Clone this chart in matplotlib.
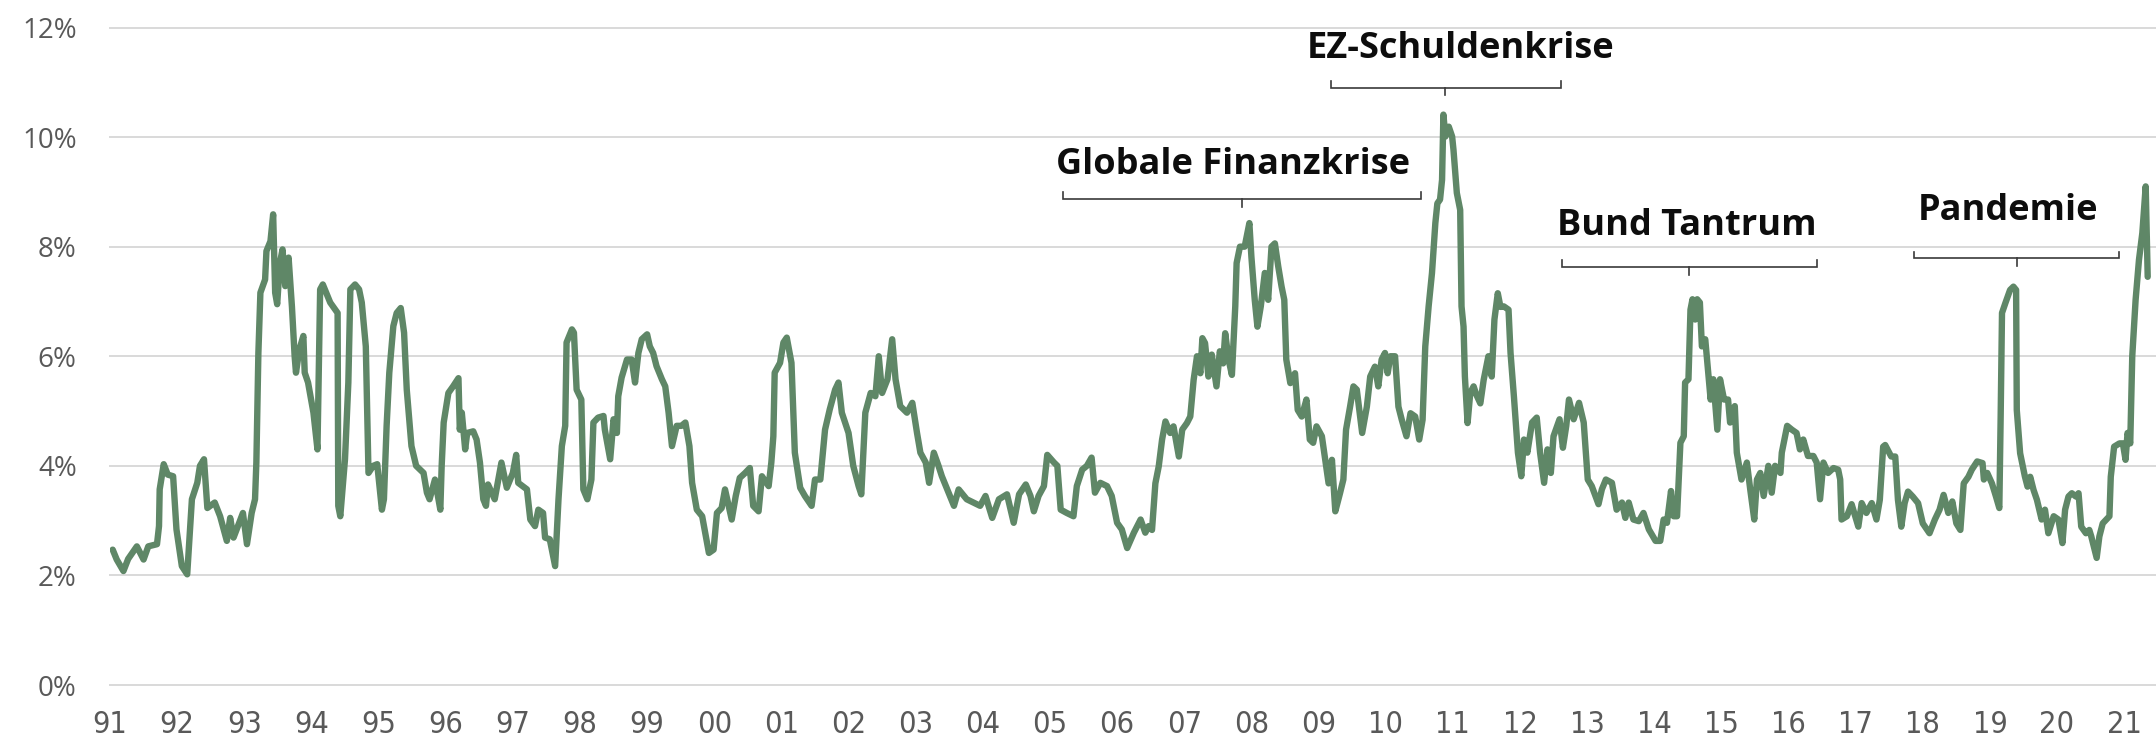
import matplotlib
matplotlib.use("Agg")
import matplotlib.pyplot as plt
from matplotlib import font_manager

# ---------------- data ----------------
years = [
    1991.04, 1991.10, 1991.20, 1991.27, 1991.40, 1991.50, 1991.57, 1991.70, 1991.73, 1991.74,
    1991.80, 1991.86, 1991.94, 1991.99, 1992.07, 1992.15, 1992.22, 1992.30, 1992.34, 1992.40,
    1992.45, 1992.56, 1992.64, 1992.74, 1992.79, 1992.84, 1992.98, 1993.04, 1993.11, 1993.16,
    1993.18, 1993.21, 1993.24, 1993.31, 1993.33, 1993.39, 1993.43, 1993.46, 1993.49, 1993.53,
    1993.57, 1993.61, 1993.66, 1993.71, 1993.75, 1993.77, 1993.82, 1993.88, 1993.90, 1993.95,
    1994.03, 1994.09, 1994.13, 1994.17, 1994.28, 1994.39, 1994.40, 1994.43, 1994.50, 1994.55,
    1994.58, 1994.65, 1994.71, 1994.75, 1994.81, 1994.85, 1994.92, 1994.98, 1995.05, 1995.08,
    1995.12, 1995.16, 1995.22, 1995.27, 1995.33, 1995.38, 1995.42, 1995.49, 1995.56, 1995.67,
    1995.72, 1995.76, 1995.84, 1995.92, 1995.94, 1995.97, 1996.04, 1996.11, 1996.19,
    1996.21, 1996.24, 1996.29, 1996.32, 1996.41, 1996.46, 1996.51, 1996.56, 1996.60, 1996.63,
    1996.73, 1996.83, 1996.91, 1997.00, 1997.05, 1997.08, 1997.21, 1997.26, 1997.33, 1997.38,
    1997.45, 1997.48, 1997.55, 1997.63, 1997.68, 1997.73, 1997.78, 1997.80, 1997.88, 1997.91,
    1997.95, 1998.02, 1998.05, 1998.11, 1998.17, 1998.20, 1998.27, 1998.35, 1998.37, 1998.45,
    1998.50, 1998.55, 1998.57, 1998.62, 1998.70, 1998.77, 1998.82, 1998.87, 1998.92, 1999.00,
    1999.04, 1999.09, 1999.14, 1999.22, 1999.27, 1999.32, 1999.37, 1999.44, 1999.51, 1999.57,
    1999.63, 1999.67, 1999.74, 1999.82, 1999.92, 1999.99, 2000.04, 2000.11, 2000.16, 2000.26,
    2000.32, 2000.38, 2000.46, 2000.53, 2000.58, 2000.66, 2000.71, 2000.81, 2000.85, 2000.88,
    2000.90, 2000.98, 2001.03, 2001.08, 2001.15, 2001.20,
    2001.28, 2001.35, 2001.45, 2001.50, 2001.58, 2001.65, 2001.72, 2001.80, 2001.85, 2001.90,
    2002.00, 2002.07, 2002.15, 2002.19, 2002.25, 2002.33, 2002.40, 2002.45, 2002.50, 2002.58,
    2002.65, 2002.70, 2002.77, 2002.87, 2002.95, 2003.02, 2003.07, 2003.15, 2003.20, 2003.27,
    2003.34, 2003.39, 2003.47, 2003.57, 2003.64, 2003.76, 2003.86, 2003.96, 2004.04, 2004.14,
    2004.24, 2004.36, 2004.46, 2004.54, 2004.64, 2004.71, 2004.76, 2004.83, 2004.91, 2004.96,
    2005.06, 2005.11, 2005.16, 2005.25, 2005.35, 2005.40, 2005.48, 2005.55, 2005.62, 2005.67,
    2005.75, 2005.85, 2005.92, 2006.00, 2006.07, 2006.15, 2006.25, 2006.35, 2006.42, 2006.47,
    2006.52, 2006.57, 2006.62, 2006.67, 2006.72, 2006.79, 2006.84, 2006.92, 2006.97, 2007.04,
    2007.09, 2007.14, 2007.19, 2007.24, 2007.27, 2007.31, 2007.36, 2007.41, 2007.48, 2007.53,
    2007.58, 2007.61, 2007.66, 2007.71, 2007.76, 2007.78, 2007.83, 2007.90, 2007.97, 2008.00,
    2008.05, 2008.09, 2008.14, 2008.20, 2008.25, 2008.30, 2008.35, 2008.40, 2008.45, 2008.49,
    2008.52, 2008.58, 2008.65, 2008.69, 2008.75, 2008.82, 2008.87, 2008.92, 2008.97, 2009.05,
    2009.10, 2009.15, 2009.20, 2009.25, 2009.32, 2009.37, 2009.41, 2009.47, 2009.52, 2009.57,
    2009.65, 2009.72, 2009.77, 2009.84, 2009.89, 2009.94, 2009.99, 2010.03, 2010.07, 2010.14,
    2010.19, 2010.24, 2010.31, 2010.37, 2010.44, 2010.50, 2010.55, 2010.59, 2010.64, 2010.69,
    2010.74, 2010.77, 2010.81, 2010.84, 2010.86, 2010.89, 2010.94, 2010.99, 2011.01, 2011.06,
    2011.11, 2011.13, 2011.16, 2011.18, 2011.22, 2011.26, 2011.31, 2011.35, 2011.41, 2011.46,
    2011.53, 2011.58, 2011.62, 2011.67, 2011.71, 2011.76, 2011.83, 2011.86, 2011.91, 2011.97,
    2012.02, 2012.06, 2012.11, 2012.18, 2012.25, 2012.30, 2012.36, 2012.41, 2012.46, 2012.50,
    2012.59, 2012.64, 2012.69, 2012.73, 2012.80, 2012.88, 2012.95, 2013.01, 2013.07, 2013.17,
    2013.22, 2013.28, 2013.37, 2013.44, 2013.52, 2013.57, 2013.62, 2013.69, 2013.77, 2013.84,
    2013.92, 2014.02, 2014.09, 2014.14, 2014.19, 2014.25, 2014.29, 2014.34, 2014.39, 2014.44,
    2014.46, 2014.51, 2014.54, 2014.57, 2014.61, 2014.64, 2014.68, 2014.71, 2014.76, 2014.80,
    2014.84, 2014.88, 2014.94, 2014.98, 2015.04, 2015.10, 2015.13, 2015.20, 2015.23, 2015.30,
    2015.38, 2015.43, 2015.49, 2015.53, 2015.58, 2015.63, 2015.70, 2015.75, 2015.80, 2015.88,
    2015.90, 2015.98, 2016.05, 2016.12, 2016.17, 2016.22, 2016.29, 2016.37, 2016.42, 2016.47,
    2016.52, 2016.59, 2016.67, 2016.74, 2016.77, 2016.79, 2016.87, 2016.94,
    2017.04, 2017.09, 2017.16, 2017.24, 2017.31, 2017.36, 2017.41, 2017.44, 2017.53, 2017.59,
    2017.63, 2017.68, 2017.73, 2017.78, 2017.85, 2017.93, 2018.00, 2018.10, 2018.18, 2018.25,
    2018.31, 2018.38, 2018.44, 2018.50, 2018.56, 2018.61, 2018.68, 2018.73, 2018.81, 2018.89,
    2018.91, 2018.96, 2019.03, 2019.09, 2019.14, 2019.16, 2019.18, 2019.23, 2019.30, 2019.35,
    2019.39, 2019.40, 2019.45, 2019.52, 2019.56, 2019.60, 2019.65, 2019.70, 2019.77, 2019.82,
    2019.87, 2019.95, 2020.02, 2020.08, 2020.12, 2020.17, 2020.22, 2020.28, 2020.32, 2020.36,
    2020.43, 2020.48, 2020.51, 2020.56, 2020.59, 2020.63, 2020.68, 2020.78, 2020.80, 2020.85,
    2020.93, 2020.98, 2021.02, 2021.05, 2021.09, 2021.12, 2021.17, 2021.22, 2021.27, 2021.32,
    2021.35,
]

vol = [
    2.47, 2.29, 2.08, 2.30, 2.53, 2.29, 2.53, 2.57, 2.90, 3.57,
    4.03, 3.84, 3.81, 2.84, 2.17, 2.02, 3.39, 3.69, 4.00, 4.12,
    3.23, 3.33, 3.08, 2.63, 3.05, 2.69, 3.14, 2.57, 3.14, 3.39,
    4.06, 6.06, 7.16, 7.40, 7.92, 8.10, 8.59, 7.16, 6.95, 7.70,
    7.95, 7.28, 7.80, 6.90, 6.00, 5.70, 6.12, 6.37, 5.70, 5.52,
    4.97, 4.30, 7.22, 7.31, 6.98, 6.79, 3.27, 3.08, 4.12, 5.52,
    7.22, 7.31, 7.22, 6.98, 6.18, 3.87, 4.00, 4.03, 3.20, 3.39,
    4.73, 5.70, 6.55, 6.79, 6.88, 6.43, 5.39, 4.36, 4.00, 3.87,
    3.51, 3.39, 3.75, 3.20, 4.00, 4.79, 5.33, 5.45, 5.60,
    4.66, 4.97, 4.30, 4.60, 4.63, 4.48, 4.06, 3.39, 3.27, 3.66,
    3.39, 4.06, 3.60, 3.87, 4.20, 3.69, 3.57, 3.02, 2.90, 3.20,
    3.14, 2.69, 2.66, 2.17, 3.39, 4.36, 4.73, 6.25, 6.49, 6.43,
    5.39, 5.21, 3.57, 3.39, 3.75, 4.79, 4.88, 4.91, 4.66, 4.12,
    4.85, 4.60, 5.27, 5.61, 5.94, 5.94, 5.52, 6.06, 6.31, 6.40,
    6.18, 6.06, 5.82, 5.58, 5.45, 4.97, 4.36, 4.73, 4.73, 4.79,
    4.36, 3.69, 3.20, 3.08, 2.41, 2.47, 3.14, 3.23, 3.57, 3.02,
    3.45, 3.78, 3.87, 3.96, 3.27, 3.17, 3.81, 3.63, 4.06, 4.54,
    5.70, 5.88, 6.25, 6.34, 5.88, 4.24,
    3.60, 3.45, 3.27, 3.75, 3.75, 4.66, 5.03, 5.39, 5.52, 4.97,
    4.60, 4.00, 3.63, 3.48, 4.97, 5.33, 5.27, 6.00, 5.33, 5.58,
    6.31, 5.58, 5.09, 4.97, 5.15, 4.60, 4.24, 4.06, 3.69, 4.24,
    4.00, 3.81, 3.57, 3.27, 3.57, 3.39, 3.33, 3.27, 3.45, 3.05,
    3.39, 3.48, 2.96, 3.48, 3.66, 3.45, 3.17, 3.45, 3.63, 4.20,
    4.06, 4.00, 3.20, 3.14, 3.08, 3.63, 3.93, 4.00, 4.15, 3.51,
    3.69, 3.63, 3.45, 2.96, 2.84, 2.50, 2.78, 3.02, 2.78, 2.90,
    2.83, 3.68, 3.99, 4.48, 4.81, 4.60, 4.72, 4.17, 4.66, 4.78,
    4.90, 5.57, 6.00, 5.69, 6.33, 6.24, 5.63, 6.03, 5.45, 6.09,
    5.87, 6.42, 5.94, 5.66, 6.91, 7.70, 8.00, 8.00, 8.43, 7.82,
    7.03, 6.54, 6.91, 7.52, 7.03, 8.00, 8.06, 7.64, 7.27, 7.03,
    5.94, 5.51, 5.69, 5.02, 4.90, 5.21, 4.48, 4.42, 4.72, 4.54,
    4.11, 3.68, 4.11, 3.17, 3.50, 3.75, 4.66, 5.08, 5.45, 5.39,
    4.60, 5.08, 5.63, 5.81, 5.45, 5.94, 6.06, 5.69, 6.00, 6.00,
    5.08, 4.84, 4.54, 4.96, 4.90, 4.48, 4.84, 6.18, 6.91, 7.52,
    8.43, 8.79, 8.86, 9.22, 10.41, 10.01, 10.19, 10.01, 9.77, 8.98,
    8.67, 6.91, 6.54, 5.63, 4.78, 5.33, 5.45, 5.30, 5.14, 5.57,
    6.00, 5.63, 6.67, 7.15, 6.90, 6.91, 6.85, 6.06, 5.27, 4.24,
    3.81, 4.48, 4.24, 4.79, 4.88, 4.24, 3.69, 4.30, 3.87, 4.54,
    4.85, 4.33, 4.73, 5.21, 4.85, 5.15, 4.79, 3.75, 3.63, 3.30,
    3.57, 3.75, 3.69, 3.20, 3.33, 3.05, 3.33, 3.02, 2.99, 3.14,
    2.84, 2.63, 2.63, 3.02, 2.96, 3.54, 3.08, 3.08, 4.42, 4.54,
    5.52, 5.58, 6.85, 7.04, 6.67, 7.04, 6.98, 6.18, 6.31, 5.76,
    5.21, 5.58, 4.66, 5.58, 5.21, 5.21, 4.79, 5.09, 4.24, 3.75,
    4.06, 3.57, 3.02, 3.75, 3.87, 3.45, 4.00, 3.51, 4.00, 3.87,
    4.24, 4.73, 4.66, 4.60, 4.30, 4.48, 4.18, 4.18, 4.06, 3.39,
    4.06, 3.87, 3.96, 3.93, 3.75, 3.02, 3.08, 3.30,
    2.89, 3.32, 3.14, 3.32, 3.02, 3.38, 4.35, 4.38, 4.17, 4.17,
    3.38, 2.89, 3.32, 3.53, 3.44, 3.32, 2.95, 2.77, 3.02, 3.20,
    3.47, 3.14, 3.35, 2.95, 2.83, 3.68, 3.80, 3.93, 4.08, 4.05,
    3.75, 3.87, 3.68, 3.44, 3.23, 4.90, 6.79, 6.97, 7.21, 7.27,
    7.21, 5.02, 4.23, 3.81, 3.62, 3.80, 3.56, 3.38, 3.02, 3.20,
    2.77, 3.08, 3.02, 2.59, 3.20, 3.44, 3.50, 3.44, 3.50, 2.89,
    2.77, 2.83, 2.71, 2.47, 2.32, 2.71, 2.95, 3.08, 3.80, 4.35,
    4.41, 4.41, 4.11, 4.60, 4.41, 6.00, 7.03, 7.76, 8.25, 9.10,
    7.45,
]

tick_years = list(range(1991, 2022))
tick_labels = [f"{y % 100:02d}" for y in tick_years]
y_ticks = [0, 2, 4, 6, 8, 10, 12]
y_labels = [f"{v}%" for v in y_ticks]

events = ["Globale Finanzkrise", "EZ-Schuldenkrise", "Bund Tantrum", "Pandemie"]

# annotation geometry (data coordinates): bracket start, end, centre, level; label baseline
ev_x0 = [2005.19, 2009.19, 2012.63, 2017.87]
ev_x1 = [2010.53, 2012.61, 2016.42, 2020.92]
ev_xc = [2007.86, 2010.88, 2014.52, 2019.40]
ev_y = [8.87, 10.90, 7.63, 7.79]
ev_tx = [2007.73, 2011.11, 2014.49, 2019.27]
ev_ty = [9.33, 11.44, 8.21, 8.49]

# ---------------- fonts ----------------
fonts = font_manager.fontManager.ttflist
avail = {f.name for f in fonts}


def _w(v):
    if isinstance(v, (int, float)):
        return v
    return {"ultralight": 200, "light": 300, "normal": 400, "regular": 400,
            "book": 400, "medium": 500}.get(str(v).lower(), 700)


narrow_path = None
for f in fonts:
    n = f.name.lower()
    st = str(f.stretch).lower()
    if ("narrow" in n or "condensed" in n or "condensed" in st) and _w(f.weight) <= 400 \
            and str(f.style) == "normal":
        narrow_path = f.fname
        break

base_font = "Open Sans" if "Open Sans" in avail else "DejaVu Sans"
plt.rcParams["font.family"] = [base_font, "DejaVu Sans"]

# ---------------- figure ----------------
W, H = 2156, 746
fig = plt.figure(figsize=(W / 100, H / 100), dpi=100)
ax = fig.add_axes([110 / W, 1 - 685 / H, (W - 110) / W, (685 - 27.5) / H])

line_color = "#5f8767"
ax.plot(years, vol, color=line_color, lw=4.6, solid_joinstyle="round",
        solid_capstyle="round", zorder=3)

ax.set_xlim(1991.0, 1991.0 + (W - 110) / 67.14)
ax.set_ylim(0, 12)

ax.set_yticks(y_ticks)
ax.set_yticklabels(y_labels)
ax.set_xticks(tick_years)
if narrow_path:
    fp = font_manager.FontProperties(fname=narrow_path, size=22)
    ax.set_xticklabels(tick_labels, fontproperties=fp)
else:
    ax.set_xticklabels(tick_labels, fontsize=19)

ax.tick_params(axis="y", length=0, pad=24, labelsize=20, labelcolor="#595959")
ax.tick_params(axis="x", length=0, pad=18, labelcolor="#595959")

ax.grid(axis="y", color="#d9d9d9", lw=1.4, zorder=0)
ax.grid(axis="x", visible=False)
for gl in ax.get_ygridlines():
    gl.set_clip_on(False)
for s in ax.spines.values():
    s.set_visible(False)
ax.set_facecolor("white")

# annotations with brackets
bc = "#3a3a3a"
for name, x0, x1, xc, yb, tx, ty in zip(events, ev_x0, ev_x1, ev_xc, ev_y, ev_tx, ev_ty):
    ax.plot([x0, x0, x1, x1], [yb + 0.12, yb, yb, yb + 0.12], color=bc, lw=1.2,
            solid_joinstyle="miter", zorder=4)
    ax.plot([xc, xc], [yb, yb - 0.14], color=bc, lw=1.2, zorder=4)
    ax.text(tx, ty, name, ha="center", va="baseline", fontsize=26,
            fontweight="bold", color="#0d0d0d", zorder=5)

fig.savefig("out.png", dpi=100, facecolor="white")
